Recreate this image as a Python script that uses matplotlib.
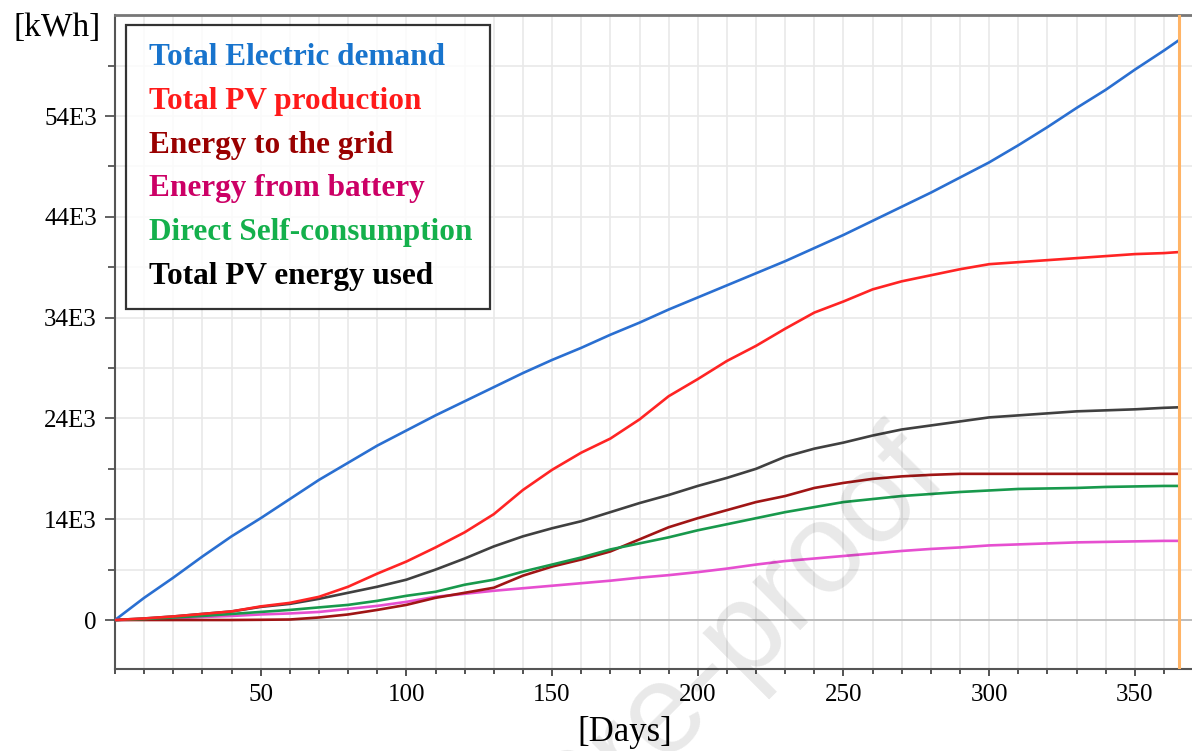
import matplotlib
matplotlib.use("Agg")
import matplotlib.pyplot as plt
from matplotlib.lines import Line2D
import numpy as np

# ---------------- data (kWh) ----------------
days = [0, 10, 20, 30, 40, 50, 60, 70, 80, 90, 100, 110, 120, 130, 140, 150,
        160, 170, 180, 190, 200, 210, 220, 230, 240, 250, 260, 270, 280, 290,
        300, 310, 320, 330, 340, 350, 360, 365]

demand = [0, 2.2, 4.2, 6.3, 8.3, 10.1, 12.0, 13.9, 15.6, 17.3, 18.8, 20.3, 21.7,
          23.1, 24.5, 25.8, 27.0, 28.3, 29.5, 30.8, 32.0, 33.2, 34.4, 35.6, 36.9,
          38.2, 39.6, 41.0, 42.4, 43.9, 45.4, 47.1, 48.9, 50.8, 52.6, 54.6, 56.5, 57.5]

pv_prod = [0, 0.15, 0.35, 0.6, 0.85, 1.35, 1.7, 2.3, 3.3, 4.6, 5.8, 7.2, 8.7,
           10.5, 12.9, 14.9, 16.6, 18.0, 19.9, 22.2, 23.9, 25.7, 27.2, 28.9, 30.5,
           31.6, 32.8, 33.6, 34.2, 34.8, 35.3, 35.5, 35.7, 35.9, 36.1, 36.3, 36.4, 36.5]

to_grid = [0, 0, 0, 0, 0, 0.02, 0.05, 0.25, 0.55, 1.0, 1.5, 2.2, 2.7, 3.2, 4.4,
           5.3, 6.0, 6.8, 8.0, 9.2, 10.1, 10.9, 11.7, 12.3, 13.1, 13.6, 14.0,
           14.25, 14.4, 14.5, 14.5, 14.5, 14.5, 14.5, 14.5, 14.5, 14.5, 14.5]

from_batt = [0, 0.05, 0.15, 0.3, 0.4, 0.55, 0.65, 0.8, 1.1, 1.4, 1.8, 2.3, 2.6,
             2.9, 3.15, 3.4, 3.65, 3.9, 4.2, 4.45, 4.75, 5.1, 5.5, 5.85, 6.1, 6.35,
             6.6, 6.85, 7.05, 7.2, 7.4, 7.5, 7.6, 7.7, 7.75, 7.8, 7.85, 7.85]

direct_self = [0, 0.1, 0.25, 0.4, 0.6, 0.8, 1.0, 1.25, 1.5, 1.9, 2.4, 2.8, 3.5,
               4.0, 4.8, 5.5, 6.2, 7.0, 7.6, 8.2, 8.9, 9.5, 10.1, 10.7, 11.2, 11.7,
               12.0, 12.3, 12.5, 12.7, 12.85, 13.0, 13.05, 13.1, 13.2, 13.25, 13.3, 13.3]

pv_used = [0, 0.15, 0.35, 0.6, 0.85, 1.3, 1.6, 2.1, 2.7, 3.3, 4.0, 5.0, 6.1, 7.3,
           8.3, 9.1, 9.8, 10.7, 11.6, 12.4, 13.3, 14.1, 15.0, 16.2, 17.0, 17.6,
           18.3, 18.9, 19.3, 19.7, 20.1, 20.3, 20.5, 20.7, 20.8, 20.9, 21.05, 21.1]

series_names = ["Total Electric demand", "Total PV production", "Energy to the grid",
                "Energy from battery", "Direct Self-consumption", "Total PV energy used"]
series_values = [demand, pv_prod, to_grid, from_batt, direct_self, pv_used]

y_tick_values = [0, 10000, 20000, 30000, 40000, 50000]
y_tick_labels = ["0", "14E3", "24E3", "34E3", "44E3", "54E3"]
x_tick_values = [50, 100, 150, 200, 250, 300, 350]
end_day = 365

# ---------------- styling ----------------
line_colors = ["#2a6fd1", "#ff2424", "#a01515", "#e64fd0", "#18994c", "#404040"]
text_colors = ["#1874cd", "#ff1a1a", "#990000", "#cc0066", "#14b04c", "#000000"]
zorders = [5, 5, 4, 3, 4, 3]

W, H = 1192, 751
fig = plt.figure(figsize=(W / 100, H / 100), dpi=100)
ax = fig.add_axes([115 / W, 1 - 669 / H, 1077 / W, 654 / H])

serif = ["Liberation Serif", "DejaVu Serif"]

for vals, c, z in zip(series_values, line_colors, zorders):
    ax.plot(days, np.array(vals) * 1000, color=c, lw=1.9, zorder=z,
            solid_joinstyle="round")

ax.axvline(end_day, color="#ffb466", lw=2.2, zorder=6)
ax.axhline(0, color="#b8b8b8", lw=1.3, zorder=1)

ax.set_xlim(0, 369.6)
ax.set_ylim(-4861, 60020)

ax.set_xticks(x_tick_values)
ax.set_xticks(np.arange(0, 370, 10), minor=True)
ax.set_yticks(y_tick_values)
ax.set_yticklabels(y_tick_labels)
ax.set_yticks(np.arange(5000, 60000, 10000), minor=True)

ax.grid(True, which="both", color="#e9e9e9", lw=1.2, zorder=0)
ax.set_axisbelow(True)

for lbl in ax.get_xticklabels() + ax.get_yticklabels():
    lbl.set_fontfamily(serif)
    lbl.set_fontsize(18)
ax.tick_params(axis="x", which="major", length=5, width=1.3, color="#444444", pad=6)
ax.tick_params(axis="x", which="minor", length=3.5, width=1.3, color="#444444")
ax.tick_params(axis="y", which="major", length=7, width=1.3, color="#555555", pad=6)
ax.tick_params(axis="y", which="minor", length=5, width=1.3, color="#555555")

for side in ["left", "bottom"]:
    ax.spines[side].set_color("#555555")
    ax.spines[side].set_linewidth(1.5)
ax.spines["top"].set_color("#777777")
ax.spines["top"].set_linewidth(2.0)
ax.spines["right"].set_visible(False)

# axis titles
fig.text(13 / W, 1 - 36 / H, "[kWh]", fontfamily=serif, fontsize=24,
         ha="left", va="baseline")
fig.text(625 / W, 1 - 741 / H, "[Days]", fontfamily=serif, fontsize=25,
         ha="center", va="baseline")

# legend (text-only entries in a framed box)
handles = [Line2D([], [], color=c, lw=0) for c in line_colors]
leg = ax.legend(handles, series_names, loc="upper left",
                bbox_to_anchor=((126 - 115) / 1077, (669 - 25) / 654),
                handlelength=0, handletextpad=0.15, borderpad=0.58,
                labelspacing=0.47, frameon=True, fancybox=False,
                edgecolor="black", borderaxespad=0,
                prop={"family": serif, "weight": "bold", "size": 22.5})
leg.get_frame().set_linewidth(1.6)
leg.set_zorder(10)
for t, c in zip(leg.get_texts(), text_colors):
    t.set_color(c)

# faint diagonal watermark
fig.text(950 / W, 1 - 480 / H, "Journal Pre-proof", fontfamily="Liberation Sans",
         fontsize=92, color="black", alpha=0.09, rotation=45,
         rotation_mode="anchor", ha="right", va="baseline", zorder=20)

fig.savefig("out.png", dpi=100)
